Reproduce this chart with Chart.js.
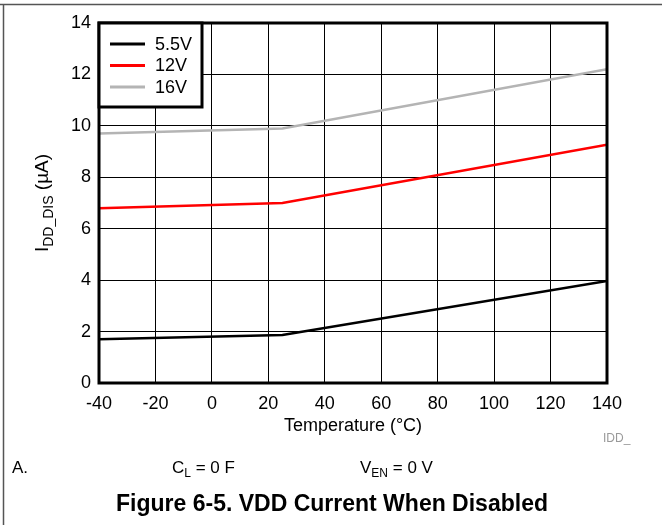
<!DOCTYPE html>
<html>
<head>
<meta charset="utf-8">
<script src="https://cdn.jsdelivr.net/npm/chart.js@4"></script>
<style>
  body { margin: 0; background: #fff; }
  #wrap { width: 662px; height: 525px; }
</style>
</head>
<body>
<div id="wrap"><canvas id="iddChart" width="662" height="525"></canvas></div>
<script>
// temperature points (°C) and supply current (µA) per supply voltage
const temps = [-40, 25, 140];
const i55 = [1.7, 1.87, 3.97];
const i12 = [6.8, 7.0, 9.27];
const i16 = [9.7, 9.9, 12.2];
const seriesLabels = ['5.5V', '12V', '16V'];
const xTicks = [-40, -20, 0, 20, 40, 60, 80, 100, 120, 140];
const yTicks = [0, 2, 4, 6, 8, 10, 12, 14];

const FONT = "'Liberation Sans', Arial, sans-serif";
const colors = ['#000000', '#ff0000', '#b4b4b4'];

function pts(vals) {
  return temps.map((t, i) => ({ x: t, y: vals[i] }));
}

// draws the frame, legend box, axis titles and figure caption
const decorations = {
  id: 'decorations',
  afterDraw(chart) {
    const ctx = chart.ctx;
    const a = chart.chartArea;
    ctx.save();

    // page frame
    ctx.strokeStyle = '#555';
    ctx.lineWidth = 1.5;
    ctx.beginPath();
    ctx.moveTo(0, 4.5); ctx.lineTo(662, 4.5);
    ctx.moveTo(3.5, 4); ctx.lineTo(3.5, 525);
    ctx.stroke();

    // plot border
    ctx.strokeStyle = '#000';
    ctx.lineWidth = 3;
    ctx.strokeRect(a.left, a.top, a.right - a.left, a.bottom - a.top);

    // legend
    const lx = a.left, ly = a.top, lw = 103, lh = 84;
    ctx.fillStyle = '#fff';
    ctx.fillRect(lx, ly, lw, lh);
    ctx.strokeRect(lx, ly, lw, lh);
    ctx.font = '18px ' + FONT;
    ctx.textBaseline = 'middle';
    ctx.textAlign = 'left';
    chart.data.datasets.forEach((ds, i) => {
      const y = ly + 21 + i * 21.5;
      ctx.strokeStyle = ds.borderColor;
      ctx.lineWidth = 3;
      ctx.beginPath();
      ctx.moveTo(lx + 11, y); ctx.lineTo(lx + 46, y);
      ctx.stroke();
      ctx.fillStyle = '#000';
      ctx.fillText(ds.label, lx + 56, y + 1);
    });

    // y axis title with subscript
    ctx.fillStyle = '#000';
    ctx.textBaseline = 'alphabetic';
    ctx.save();
    ctx.translate(48, (a.top + a.bottom) / 2);
    ctx.rotate(-Math.PI / 2);
    const parts = [['I', 19, 0], ['DD_DIS', 14, 5], [' (\u00b5A)', 19, 0]];
    let total = 0;
    parts.forEach(p => { ctx.font = p[1] + 'px ' + FONT; total += ctx.measureText(p[0]).width; });
    let px = -total / 2;
    parts.forEach(p => {
      ctx.font = p[1] + 'px ' + FONT;
      ctx.fillText(p[0], px, p[2]);
      px += ctx.measureText(p[0]).width;
    });
    ctx.restore();

    // x axis title
    ctx.font = '18px ' + FONT;
    ctx.textAlign = 'center';
    ctx.fillText('Temperature (\u00b0C)', (a.left + a.right) / 2, 431);

    // small id tag
    ctx.fillStyle = '#999';
    ctx.font = '12px ' + FONT;
    ctx.textAlign = 'left';
    ctx.fillText('IDD_', 603, 442);

    // footnote line
    ctx.fillStyle = '#000';
    ctx.font = '17px ' + FONT;
    ctx.fillText('A.', 12, 473);
    function sub(x, main, s, rest) {
      ctx.font = '17px ' + FONT;
      ctx.fillText(main, x, 473);
      x += ctx.measureText(main).width;
      ctx.font = '12px ' + FONT;
      ctx.fillText(s, x, 477);
      x += ctx.measureText(s).width;
      ctx.font = '17px ' + FONT;
      ctx.fillText(rest, x, 473);
    }
    sub(172, 'C', 'L', ' = 0 F');
    sub(360, 'V', 'EN', ' = 0 V');

    // figure caption
    ctx.font = 'bold 23px ' + FONT;
    ctx.textAlign = 'center';
    ctx.fillText('Figure 6-5. VDD Current When Disabled', 332, 511);

    ctx.restore();
  }
};

new Chart(document.getElementById('iddChart').getContext('2d'), {
  type: 'scatter',
  data: {
    datasets: [i55, i12, i16].map((vals, i) => ({
      label: seriesLabels[i],
      data: pts(vals),
      borderColor: colors[i],
      backgroundColor: colors[i],
      borderWidth: 2.5,
      pointRadius: 0,
      showLine: true,
      fill: false
    }))
  },
  options: {
    responsive: false,
    animation: false,
    layout: { padding: { top: 23, right: 55, left: 0, bottom: 0 } },
    plugins: { legend: { display: false }, tooltip: { enabled: false } },
    scales: {
      x: {
        type: 'linear',
        min: xTicks[0],
        max: xTicks[xTicks.length - 1],
        afterBuildTicks: s => { s.ticks = xTicks.map(v => ({ value: v })); },
        afterFit: s => { s.height = 142; },
        ticks: { color: '#000', font: { family: FONT, size: 18 }, padding: 10 },
        grid: { color: '#000', lineWidth: 1, drawTicks: false },
        border: { display: false }
      },
      y: {
        min: yTicks[0],
        max: yTicks[yTicks.length - 1],
        afterBuildTicks: s => { s.ticks = yTicks.map(v => ({ value: v })); },
        afterFit: s => { s.width = 99; },
        ticks: { color: '#000', font: { family: FONT, size: 18 }, padding: 8 },
        grid: { color: '#000', lineWidth: 1, drawTicks: false },
        border: { display: false }
      }
    }
  },
  plugins: [decorations]
});
</script>
</body>
</html>
